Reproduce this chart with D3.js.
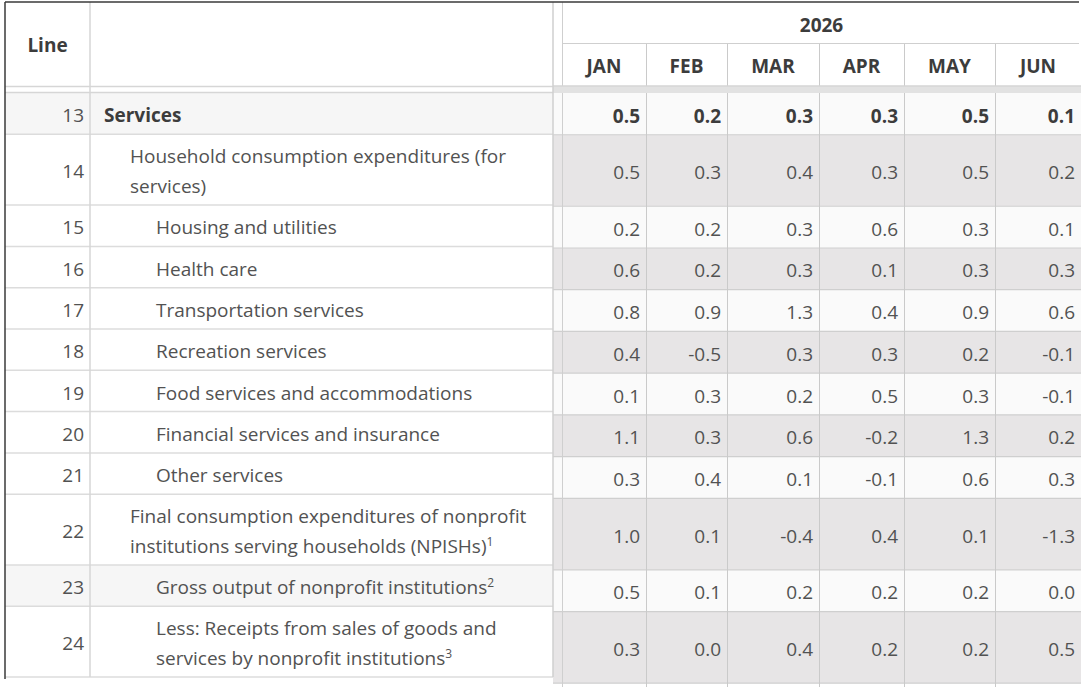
<!DOCTYPE html>
<html lang="en">
<head>
<meta charset="utf-8">
<title>Services - percent change by month</title>
<style>
  body { margin: 0; background: #fff; overflow: hidden; }
  svg text { font-family: "Open Sans", "Noto Sans", sans-serif; }
</style>
</head>
<body>
<svg id="table" width="1084" height="687"></svg>
<script src="https://d3js.org/d3.v7.min.js"></script>
<script>
// ---- data ----
var lineNumbers = [13, 14, 15, 16, 17, 18, 19, 20, 21, 22, 23, 24];
var labels = [
  "Services",
  "Household consumption expenditures (for services)",
  "Housing and utilities",
  "Health care",
  "Transportation services",
  "Recreation services",
  "Food services and accommodations",
  "Financial services and insurance",
  "Other services",
  "Final consumption expenditures of nonprofit institutions serving households (NPISHs)",
  "Gross output of nonprofit institutions",
  "Less: Receipts from sales of goods and services by nonprofit institutions"
];
var levels = [0, 1, 2, 2, 2, 2, 2, 2, 2, 1, 2, 2];
var notes = ["", "", "", "", "", "", "", "", "", "1", "2", "3"];
var year = "2026";
var months = ["JAN", "FEB", "MAR", "APR", "MAY", "JUN"];
var jan = [0.5, 0.5, 0.2, 0.6, 0.8, 0.4, 0.1, 1.1, 0.3, 1.0, 0.5, 0.3];
var feb = [0.2, 0.3, 0.2, 0.2, 0.9, -0.5, 0.3, 0.3, 0.4, 0.1, 0.1, 0.0];
var mar = [0.3, 0.4, 0.3, 0.3, 1.3, 0.3, 0.2, 0.6, 0.1, -0.4, 0.2, 0.4];
var apr = [0.3, 0.3, 0.6, 0.1, 0.4, 0.3, 0.5, -0.2, -0.1, 0.4, 0.2, 0.2];
var may = [0.5, 0.5, 0.3, 0.3, 0.9, 0.2, 0.3, 1.3, 0.6, 0.1, 0.2, 0.2];
var jun = [0.1, 0.2, 0.1, 0.3, 0.6, -0.1, -0.1, 0.2, 0.3, -1.3, 0.0, 0.5];
var series = [jan, feb, mar, apr, may, jun];

// ---- layout ----
var W = 1084, H = 687;
var panelL = 5, lineColR = 90, panelR = 553;
var dataL = 562;
var colWidths = [84, 81, 92, 85, 91, 86];
var headTop = 2, headMid = 43.5, headBot = 86.5, bodyTop = 93;
var singleH = 41.3, lineStep = 30;
var fs = 19, shift = 2;

var svg = d3.select("#table");
var txt = "#525252", bold = "#3c3c3c";

// column edges for the month columns
var edges = [dataL];
colWidths.forEach(function(w, i) { edges.push(edges[i] + w); });
var dataR = edges[edges.length - 1];
var x = d3.scaleOrdinal().domain(months).range(edges.slice(0, -1));
var xw = d3.scaleOrdinal().domain(months).range(colWidths);

// wrap labels to the panel width
var probe = svg.append("text").attr("font-size", fs);
function textW(s) { probe.text(s); return probe.node().getComputedTextLength(); }
var rows = labels.map(function(label, i) {
  var x0 = 104 + 26 * levels[i];
  var maxW = panelR - 12 - x0;
  var words = label.split(" "), lines = [], cur = "";
  words.forEach(function(w) {
    var t = cur ? cur + " " + w : w;
    if (cur && textW(t) > maxW) { lines.push(cur); cur = w; } else cur = t;
  });
  lines.push(cur);
  return { i: i, line: lineNumbers[i], lines: lines, x0: x0, h: singleH + (lines.length - 1) * 29.5 };
});
probe.remove();

var tops = [0];
rows.forEach(function(r, i) { tops.push(tops[i] + r.h); });
var total = tops[tops.length - 1];
var yL = d3.scaleLinear().domain([0, total]).range([bodyTop, bodyTop + total]);
var yR = d3.scaleLinear().domain([0, total]).range([bodyTop, bodyTop + total * 1.0103]);

// ---- right: data block ----
var right = svg.append("g");
right.selectAll("rect.bg").data(rows).join("rect")
  .attr("x", panelR).attr("width", dataR - panelR)
  .attr("y", function(d) { return yR(tops[d.i]); })
  .attr("height", function(d) { return yR(tops[d.i + 1]) - yR(tops[d.i]); })
  .attr("fill", function(d) { return d.i % 2 ? "#e7e5e6" : "#fafafa"; });

right.selectAll("line.h").data(rows).join("line")
  .attr("x1", panelR).attr("x2", dataR)
  .attr("y1", function(d) { return yR(tops[d.i + 1]); })
  .attr("y2", function(d) { return yR(tops[d.i + 1]); })
  .attr("stroke", "#cfcfcf").attr("stroke-width", 1.2);

// vertical separators
right.selectAll("line.v").data(months.slice(1)).join("line")
  .attr("x1", function(d) { return x(d) + 0.5; }).attr("x2", function(d) { return x(d) + 0.5; })
  .attr("y1", headMid).attr("y2", H)
  .attr("stroke", "#cacaca");
right.append("line")
  .attr("x1", dataL + 0.5).attr("x2", dataL + 0.5).attr("y1", headTop).attr("y2", H)
  .attr("stroke", "#cfcfcf");

// values
months.forEach(function(m, c) {
  right.append("g").selectAll("text").data(series[c]).join("text")
    .attr("x", x(m) + xw(m) - 6)
    .attr("y", function(d, i) { return (yR(tops[i]) + yR(tops[i + 1])) / 2 + shift; })
    .attr("dy", "0.35em")
    .attr("text-anchor", "end")
    .attr("font-size", fs)
    .attr("font-weight", function(d, i) { return i === 0 ? 700 : 400; })
    .attr("fill", function(d, i) { return i === 0 ? bold : txt; })
    .text(function(d) { return d.toFixed(1); });
});

// header
right.append("line").attr("x1", dataL).attr("x2", dataR - 2)
  .attr("y1", headMid).attr("y2", headMid).attr("stroke", "#cfcfcf");
right.append("text")
  .attr("x", (dataL + dataR) / 2).attr("y", (headTop + headMid) / 2 + 3).attr("dy", "0.35em")
  .attr("text-anchor", "middle").attr("font-size", fs).attr("font-weight", 700).attr("fill", bold)
  .text(year);
right.append("g").selectAll("text").data(months).join("text")
  .attr("x", function(d) { return x(d) + xw(d) / 2; })
  .attr("y", (headMid + headBot) / 2 + 1).attr("dy", "0.35em")
  .attr("text-anchor", "middle").attr("font-size", fs).attr("font-weight", 700).attr("fill", bold)
  .text(function(d) { return d; });

// band under the header
right.append("rect").attr("x", panelR).attr("width", dataR - panelR)
  .attr("y", headBot - 1).attr("height", bodyTop - headBot + 1).attr("fill", "#e2e2e2");
right.append("line").attr("x1", panelR).attr("x2", dataR)
  .attr("y1", headBot - 0.5).attr("y2", headBot - 0.5).attr("stroke", "#cfcfcf");

// ---- left frozen panel ----
var left = svg.append("g");
left.append("rect").attr("x", panelL).attr("y", headTop)
  .attr("width", panelR - panelL).attr("height", yL(total) - headTop).attr("fill", "#fff");
left.selectAll("rect.bg").data(rows).join("rect")
  .attr("x", panelL).attr("width", panelR - panelL)
  .attr("y", function(d) { return yL(tops[d.i]); })
  .attr("height", function(d) { return d.h; })
  .attr("fill", function(d) { return d.line === 13 || d.line === 23 ? "#f6f6f6" : "#fff"; });

left.selectAll("line.h").data(rows).join("line")
  .attr("x1", panelL).attr("x2", panelR)
  .attr("y1", function(d) { return yL(tops[d.i + 1]); })
  .attr("y2", function(d) { return yL(tops[d.i + 1]); })
  .attr("stroke", "#dcdcdc").attr("stroke-width", 1.5);
[headBot, bodyTop - 0.5].forEach(function(yy) {
  left.append("line").attr("x1", panelL).attr("x2", panelR)
    .attr("y1", yy).attr("y2", yy).attr("stroke", "#d6d6d6").attr("stroke-width", 1.5);
});
left.append("line").attr("x1", lineColR).attr("x2", lineColR)
  .attr("y1", headTop).attr("y2", yL(total)).attr("stroke", "#d6d6d6").attr("stroke-width", 1.5);
left.append("line").attr("x1", panelR).attr("x2", panelR)
  .attr("y1", headTop).attr("y2", yL(total)).attr("stroke", "#cfcfcf").attr("stroke-width", 1.5);

left.append("text")
  .attr("x", (panelL + lineColR) / 2).attr("y", 45).attr("dy", "0.35em")
  .attr("text-anchor", "middle").attr("font-size", fs).attr("font-weight", 700).attr("fill", bold)
  .text("Line");

var rowG = left.selectAll("g.row").data(rows).join("g");
rowG.append("text")
  .attr("x", lineColR - 6)
  .attr("y", function(d) { return yL(tops[d.i]) + d.h / 2 + shift; }).attr("dy", "0.35em")
  .attr("text-anchor", "end").attr("font-size", fs).attr("fill", txt)
  .text(function(d) { return d.line; });

rowG.each(function(d) {
  var g = d3.select(this);
  var mid = yL(tops[d.i]) + d.h / 2 + shift;
  var first = mid - (d.lines.length - 1) * lineStep / 2;
  d.lines.forEach(function(s, k) {
    var t = g.append("text")
      .attr("x", d.x0).attr("y", first + k * lineStep).attr("dy", "0.35em")
      .attr("font-size", fs)
      .attr("font-weight", d.i === 0 ? 700 : 400)
      .attr("fill", d.i === 0 ? bold : txt);
    t.append("tspan").text(s);
    if (k === d.lines.length - 1 && notes[d.i]) {
      t.append("tspan").attr("font-size", 12).attr("dy", "-0.6em").text(notes[d.i]);
    }
  });
});

// outer borders
svg.append("line").attr("x1", panelL).attr("x2", dataR - 2).attr("y1", headTop).attr("y2", headTop)
  .attr("stroke", "#3a3a3a").attr("stroke-width", 1.5);
svg.append("line").attr("x1", panelL).attr("x2", panelL).attr("y1", headTop).attr("y2", yL(total) + 2)
  .attr("stroke", "#3a3a3a").attr("stroke-width", 1.5);
</script>
</body>
</html>
